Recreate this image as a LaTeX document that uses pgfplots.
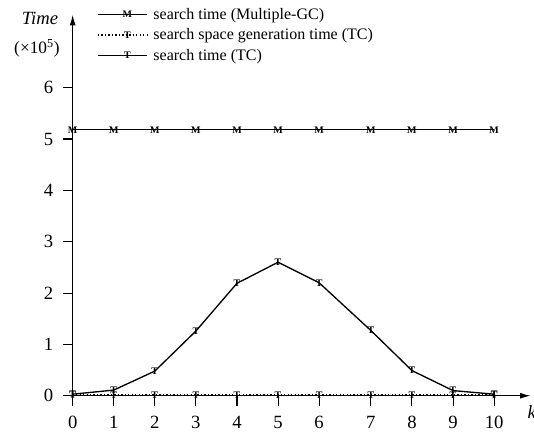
\documentclass[border=0pt]{standalone}
\usepackage{fontspec}
\setmainfont{Liberation Serif}
\usepackage{pgfplots}
\pgfplotsset{compat=1.18}
\usetikzlibrary{arrows.meta}

% x positions follow the original drawing: the gap between 6 and 7 is wider
\pgfplotstableread{
x     mgc   gen    tc
0     5.18  0.015  0.03
1     5.18  0.015  0.11
2     5.18  0.015  0.48
3     5.18  0.015  1.26
4     5.18  0.015  2.19
5     5.18  0.015  2.60
6     5.18  0.015  2.20
7.26  5.18  0.015  1.27
8.26  5.18  0.015  0.49
9.26  5.18  0.015  0.10
10.26 5.18  0.015  0.03
}\datatable

\newcommand{\mk}[1]{{\fontsize{7.5}{7.5}\selectfont\bfseries #1}}

\begin{document}
\begin{tikzpicture}
\begin{axis}[
    width=343.5pt, height=285.75pt, scale only axis,
    axis lines=left,
    axis line style={line width=0.9pt, -{Latex[length=8pt,width=4.5pt]}},
    xmin=0, xmax=11.15, ymin=0, ymax=7.42,
    xtick={0,1,2,3,4,5,6,7.26,8.26,9.26,10.26},
    xticklabels={0,1,2,3,4,5,6,7,8,9,10},
    ytick={0,1,2,3,4,5,6},
    tick align=outside,
    major tick length=7.5pt,
    tick style={black, line width=0.8pt},
    ticklabel style={font=\fontsize{14}{14}\selectfont},
    xticklabel style={yshift=-4pt},
    yticklabel style={xshift=-3.5pt},
    /pgf/number format/assume math mode=true,
    clip=false,
    legend cell align=left,
    legend style={draw=none, fill=none, at={(0.053,1.025)}, anchor=north west,
        font=\fontsize{12}{13}\selectfont, row sep=1.5pt,
        inner xsep=0pt, inner ysep=0pt,
        nodes={inner xsep=4pt}},
    legend image code/.code={
        \draw[mark repeat=2, mark phase=2, #1]
            plot coordinates {(0pt,0pt) (22pt,0pt) (37pt,0pt)};
    },
]
\addplot[black, line width=1pt, mark=text, text mark={\mk{M}}] table[x=x, y=mgc] {\datatable};
\addlegendentry{search time (Multiple-GC)}
\addplot[black, line width=1.2pt, dash pattern=on 1pt off 1.6pt, mark=text, text mark={\mk{T}}] table[x=x, y=gen] {\datatable};
\addlegendentry{search space generation time (TC)}
\addplot[black, line width=1pt, mark=text, text mark={\mk{T}}] table[x=x, y=tc] {\datatable};
\addlegendentry{search time (TC)}
\coordinate (O) at (axis cs:0,0);
\end{axis}
\node[font=\itshape\fontsize{14}{14}\selectfont] at ([shift={(-24.5pt,283.3pt)}]O) {Time};
\node[font=\fontsize{13}{13}\selectfont] at ([shift={(-26.8pt,260.8pt)}]O) {(×10\textsuperscript{5})};
\node[font=\itshape\fontsize{14}{14}\selectfont, anchor=west, inner sep=0pt] at ([shift={(341pt,-12pt)}]O) {k};
\pgfresetboundingbox
\path[use as bounding box] ([shift={(-54.5pt,-29.5pt)}]O) rectangle ([shift={(346pt,296.8pt)}]O);
\end{tikzpicture}
\end{document}
